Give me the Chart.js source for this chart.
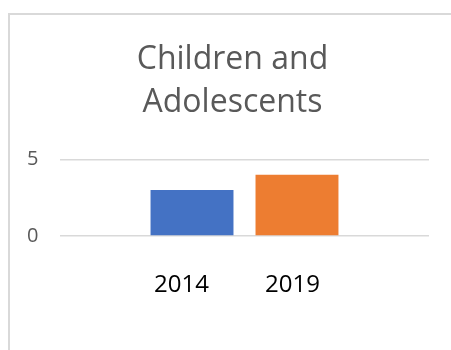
<!DOCTYPE html>
<html>
<head>
  <meta charset="utf-8">
  <title>Children and Adolescents</title>
  <script src="https://cdn.jsdelivr.net/npm/chart.js"></script>
  <style>
    html, body { margin: 0; padding: 0; background: #fff; overflow: hidden; }
    #box {
      position: absolute; left: 8px; top: 13px;
      width: 460px; height: 360px;
      border-left: 2px solid #d9d9d9; border-top: 2px solid #d9d9d9;
    }
    #wrap { position: absolute; left: 1px; top: 1px; width: 447px; height: 336px; }
  </style>
</head>
<body>
  <div id="box"><div id="wrap"><canvas id="chart"></canvas></div></div>

  <script>
    const categories = [''];
    const years = ['2014', '2019'];
    const values2014 = [3];
    const values2019 = [4];
    const yTicks = [0, 5];

    Chart.defaults.font.family = "'Open Sans', sans-serif";

    const ctx = document.getElementById('chart').getContext('2d');
    new Chart(ctx, {
      type: 'bar',
      data: {
        labels: categories,
        datasets: [
          { label: years[0], data: values2014, backgroundColor: '#4472C4' },
          { label: years[1], data: values2019, backgroundColor: '#ED7D31' }
        ]
      },
      options: {
        responsive: true,
        maintainAspectRatio: false,
        animation: false,
        categoryPercentage: 0.569,
        barPercentage: 0.79,
        layout: { padding: { left: 25, right: 29, top: 0, bottom: 35 } },
        plugins: {
          tooltip: { enabled: false },
          title: {
            display: true,
            text: ['Children and', 'Adolescents'],
            color: '#595959',
            font: { size: 32, weight: 'normal', lineHeight: 1.35 },
            padding: { top: 22, bottom: 35 }
          },
          legend: {
            position: 'bottom',
            labels: {
              // no visible box: the year labels sit under the bars like axis text
              boxWidth: -3,
              boxHeight: 24,
              padding: 47,
              color: '#000',
              font: { size: 24 }
            }
          }
        },
        scales: {
          x: {
            grid: { display: false },
            border: { display: false },
            ticks: { display: false },
            afterFit: axis => { axis.height = -9.5; }
          },
          y: {
            min: yTicks[0],
            max: yTicks[yTicks.length - 1],
            afterBuildTicks: axis => { axis.ticks = yTicks.map(v => ({ value: v })); },
            afterFit: axis => { axis.width = 24; },
            grid: { color: '#d9d9d9', lineWidth: 1.5, drawTicks: false },
            border: { display: false },
            // mirrored with negative padding so the labels are not clipped to the narrow axis box
            ticks: { color: '#595959', font: { size: 20 }, mirror: true, padding: -33 }
          }
        }
      }
    });
  </script>
</body>
</html>
